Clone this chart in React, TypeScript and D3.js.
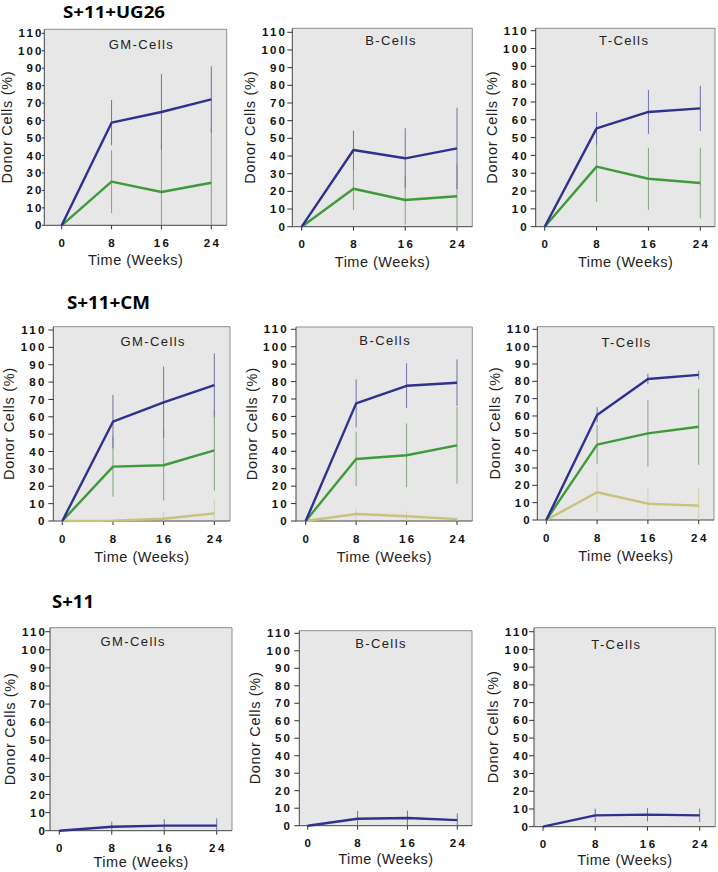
import React from "react";
import * as d3 from "d3";

// ---------- data ----------
const weeks = [0, 8, 16, 24];
const yTickValues = [0, 10, 20, 30, 40, 50, 60, 70, 80, 90, 100, 110];
const groupTitles = ["S+11+UG26", "S+11+CM", "S+11"];
const cellTypes = ["GM-Cells", "B-Cells", "T-Cells"];

// panels in row-major order: UG26 (GM, B, T), CM (GM, B, T), S+11 (GM, B, T)
const blueMean = [
  [0, 58.8, 64.9, 72.1],
  [0, 43.4, 38.7, 44.3],
  [0, 55.2, 64.4, 66.4],
  [0, 57.2, 68.3, 78.3],
  [0, 67.5, 77.6, 79.3],
  [0, 60.6, 81.3, 83.7],
  [0, 2.2, 2.8, 2.8],
  [0, 4.0, 4.4, 3.2],
  [0, 6.4, 6.8, 6.4],
];
const blueSd = [
  [0, 13, 21.6, 19],
  [0, 11, 17, 23],
  [0, 9.2, 12.3, 12.7],
  [0, 15.4, 20.6, 18.2],
  [0, 13.8, 12.8, 13.4],
  [0, 4.4, 3, 2.5],
  [0, 2.8, 3.6, 4],
  [0, 4.4, 4.2, 3.8],
  [0, 3.8, 3.7, 3.8],
];
const greenMean = [
  [0, 25, 19.1, 24.4],
  [0, 21.5, 15.1, 17.2],
  [0, 33.7, 26.9, 24.5],
  [0, 31.3, 32.1, 40.7],
  [0, 35.6, 37.7, 43.4],
  [0, 43.5, 50, 53.8],
  null,
  null,
  null,
];
const greenSd = [
  [0, 18, 27.8, 31.1],
  [0, 12, 14, 18],
  [0, 19.7, 17.4, 19.8],
  [0, 17.3, 20.4, 23.2],
  [0, 15.6, 18.3, 22],
  [0, 11.3, 19.2, 22],
  null,
  null,
  null,
];
const yellowMean = [
  null,
  null,
  null,
  [0, 0.2, 1.3, 4.4],
  [0, 4.0, 2.7, 1.1],
  [0, 16, 9.4, 8.3],
  null,
  null,
  null,
];
const yellowSd = [
  null,
  null,
  null,
  [0, 0.5, 4.1, 7.7],
  [0, 3.3, 2.7, 1],
  [0, 12, 9, 10],
  null,
  null,
  null,
];

// ---------- layout (pixel geometry, separate from data) ----------
const layout = [
  { ax: 44.3, x0: 61.7, x24: 211.3, right: 226.7, top: 29.3, y110: 33.3, y0: 225.3, gap: 2.8, subX: 140.8, subY: 44.3, tOff: 40 },
  { ax: 292.3, x0: 301.7, x24: 457, right: 472.3, top: 28.3, y110: 32.3, y0: 226.7, gap: 7.3, subX: 390.3, subY: 40.7, tOff: 40 },
  { ax: 535.7, x0: 544.7, x24: 700.3, right: 715, top: 28.3, y110: 30.7, y0: 226.7, gap: 9.0, subX: 623.5, subY: 40, tOff: 40 },
  { ax: 53.3, x0: 62.3, x24: 214.3, right: 230, top: 326.7, y110: 330, y0: 521, gap: 9.0, subX: 152.5, subY: 341, tOff: 40.5 },
  { ax: 296, x0: 305.7, x24: 457, right: 472.3, top: 327, y110: 329.3, y0: 521, gap: 9.3, subX: 384.5, subY: 340, tOff: 40.5 },
  { ax: 537.3, x0: 546.3, x24: 698.7, right: 714, top: 326.7, y110: 329.3, y0: 520, gap: 7.6, subX: 625.8, subY: 342.3, tOff: 40.5 },
  { ax: 50, x0: 59.3, x24: 216.7, right: 232, top: 627.7, y110: 631.7, y0: 830.7, gap: 5.0, subX: 132.5, subY: 641.7, tOff: 36.5 },
  { ax: 299.3, x0: 307.7, x24: 457.3, right: 472, top: 630.7, y110: 633.3, y0: 825.7, gap: 9.3, subX: 380.3, subY: 643.3, tOff: 38 },
  { ax: 534, x0: 543, x24: 699.7, right: 715.3, top: 627.7, y110: 631.7, y0: 826.7, gap: 6.0, subX: 615.7, subY: 644, tOff: 38 },
];
const titleLayout = [
  { cx: 114, base: 17.8, w: 102, fs: 16.5 },
  { cx: 108.5, base: 309, w: 83, fs: 18 },
  { cx: 73, base: 608, w: 42, fs: 18 },
];

const COLORS = {
  blue: "#2f318f",
  blueErr: "#6f71a8",
  green: "#3f9a3a",
  greenErr: "#82a67e",
  yellow: "#c6c47c",
  yellowErr: "#d2d1a4",
};

const SANS = "'Liberation Sans', Arial, Helvetica, sans-serif";

function Panel({ i }: { i: number }) {
  const L = layout[i];
  const x = d3.scaleLinear().domain([0, 24]).range([L.x0, L.x24]);
  const y = d3.scaleLinear().domain([0, 110]).range([L.y0, L.y110]);
  const line = d3
    .line<number>()
    .x((_, k) => x(weeks[k]))
    .y((d) => y(d));

  const series = [
    { mean: yellowMean[i], sd: yellowSd[i], c: COLORS.yellow, e: COLORS.yellowErr },
    { mean: greenMean[i], sd: greenSd[i], c: COLORS.green, e: COLORS.greenErr },
    { mean: blueMean[i], sd: blueSd[i], c: COLORS.blue, e: COLORS.blueErr },
  ].filter((s) => s.mean);

  const tickLen = L.gap > 5.5 ? 5 : L.gap - 0.3;
  const labelEnd = L.ax - L.gap;
  const lsY = 2.2;
  const lsX = 2.4;
  const cellLs = 1.4;
  const titleLs = 0.5;
  const midY = (L.top + L.y0) / 2;
  const midX = (L.ax + L.right) / 2;
  const yTitleX = labelEnd - 35;

  return (
    <g>
      <rect x={L.ax} y={L.top} width={L.right - L.ax} height={L.y0 - L.top} fill="#e7e7e7" />
      <line x1={L.ax} x2={L.right} y1={L.top} y2={L.top} stroke="#8e8e8e" strokeWidth={1} />
      <line x1={L.right} x2={L.right} y1={L.top} y2={L.y0} stroke="#8e8e8e" strokeWidth={1} />
      <line x1={L.ax} x2={L.ax} y1={L.top} y2={L.y0} stroke="#444" strokeWidth={1} />
      <line x1={L.ax} x2={L.right} y1={L.y0} y2={L.y0} stroke="#444" strokeWidth={1} />

      {/* y ticks */}
      {yTickValues.map((v) => (
        <g key={v}>
          <line x1={L.ax - tickLen} x2={L.ax} y1={y(v)} y2={y(v)} stroke="#333" strokeWidth={1} />
          <text
            x={labelEnd + lsY}
            y={y(v) + 4.1}
            textAnchor="end"
            fontFamily={SANS}
            fontWeight="bold"
            fontSize={11.5}
            fill="#111"
            style={{ letterSpacing: `${lsY}px` }}
          >
            {v}
          </text>
        </g>
      ))}

      {/* x ticks */}
      {weeks.map((w) => (
        <g key={w}>
          <line x1={x(w)} x2={x(w)} y1={L.y0} y2={L.y0 + 4} stroke="#333" strokeWidth={1} />
          <text
            x={x(w) + lsX / 2}
            y={L.y0 + 21.5}
            textAnchor="middle"
            fontFamily={SANS}
            fontWeight="bold"
            fontSize={11.5}
            fill="#111"
            style={{ letterSpacing: `${lsX}px` }}
          >
            {w}
          </text>
        </g>
      ))}

      {/* error bars */}
      {series.map((s, si) =>
        weeks.map((w, k) =>
          k === 0 ? null : (
            <line
              key={`e${si}-${k}`}
              x1={x(w)}
              x2={x(w)}
              y1={y(Math.max(0, s.mean![k] - s.sd![k]))}
              y2={y(s.mean![k] + s.sd![k])}
              stroke={s.e}
              strokeWidth={1}
            />
          )
        )
      )}

      {/* lines */}
      {series.map((s, si) => (
        <path key={`l${si}`} d={line(s.mean!) || ""} fill="none" stroke={s.c} strokeWidth={2.4} strokeLinejoin="round" />
      ))}

      {/* cell type subtitle */}
      <text
        x={L.subX + cellLs / 2}
        y={L.subY + 4.6}
        textAnchor="middle"
        fontFamily={SANS}
        fontSize={13}
        fill="#222"
        style={{ letterSpacing: `${cellLs}px` }}
      >
        {cellTypes[i % 3]}
      </text>

      {/* axis titles */}
      <text
        x={midX + titleLs / 2}
        y={L.y0 + L.tOff}
        textAnchor="middle"
        fontFamily={SANS}
        fontSize={14.5}
        fill="#222"
        style={{ letterSpacing: `${titleLs}px` }}
      >
        Time (Weeks)
      </text>
      <text
        transform={`translate(${yTitleX + 5},${midY}) rotate(-90)`}
        x={titleLs / 2}
        y={0}
        textAnchor="middle"
        fontFamily={SANS}
        fontSize={14.5}
        fill="#222"
        style={{ letterSpacing: `${titleLs + 0.2}px` }}
      >
        Donor Cells (%)
      </text>
    </g>
  );
}

export default function App() {
  return (
    <div style={{ position: "absolute", left: 0, top: 0, width: 718, height: 872, background: "#fff" }}>
      <svg width={718} height={872} viewBox="0 0 718 872" style={{ display: "block" }}>
        <rect x={0} y={0} width={718} height={872} fill="#fff" />
        {groupTitles.map((t, r) => (
          <text
            key={t}
            x={titleLayout[r].cx - titleLayout[r].w / 2}
            y={titleLayout[r].base}
            fontFamily="'Open Sans', 'DejaVu Sans', sans-serif"
            fontWeight="bold"
            fontSize={titleLayout[r].fs}
            fill="#000"
            textLength={titleLayout[r].w}
            lengthAdjust="spacingAndGlyphs"
          >
            {t}
          </text>
        ))}
        {layout.map((_, i) => (
          <Panel key={i} i={i} />
        ))}
      </svg>
    </div>
  );
}
